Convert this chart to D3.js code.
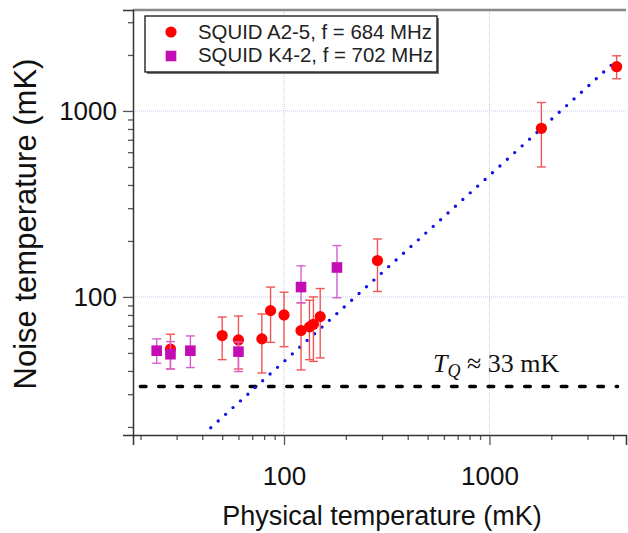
<!DOCTYPE html>
<html>
<head>
<meta charset="utf-8">
<script src="https://cdn.jsdelivr.net/npm/d3@7"></script>
<style>
  body { margin: 0; background: #fff; }
  text { font-family: Arial, "Liberation Sans", sans-serif; }
</style>
</head>
<body>
<svg id="mainsvg"></svg>
<script>
// SQUID A2-5 (red circles)
const aName = "SQUID A2-5, f = 684 MHz";
const aTemp  = [28, 50, 60, 78, 86, 100, 121, 133, 139, 150, 285, 1790, 4160];
const aNoise = [52.5, 62, 58.7, 59.5, 84.4, 80, 66, 69, 71.3, 78.4, 157, 807, 1730];
const aLow   = [41, 46, 41, 39, 57, 54, 40.5, 46, 45, 47, 107, 500, 1490];
const aHigh  = [63, 78, 79, 81, 113, 106, 93, 96, 100, 111, 205, 1110, 1980];

// SQUID K4-2 (magenta squares)
const kName = "SQUID K4-2, f = 702 MHz";
const kTemp  = [24, 28, 35, 60, 121, 181];
const kNoise = [51.4, 49.2, 51.4, 50.8, 113, 144];
const kLow   = [44, 41, 41.7, 39.7, 93, 99];
const kHigh  = [59.5, 57.5, 61.7, 57.3, 147, 189];

// reference lines
const tQ = 33;
const tQRange = [20, 4200];
const slope = 0.45;            // classical line T_N = 0.45 T
const slopeRange = [44, 4000];

const xMajor = [100, 1000];
const yMajor = [100, 1000];
const xMinor = [20,30,40,50,60,70,80,90,200,300,400,500,600,700,800,900,2000,3000,4000];
const yMinor = [20,30,40,50,60,70,80,90,200,300,400,500,600,700,800,900,2000,3000];

const width = 628, height = 533;
const margin = {top: 10, right: 2, bottom: 98, left: 133};

const x = d3.scaleLog([18.4, 4620], [margin.left, width - margin.right]);
const y = d3.scaleLog([18.1, 3490], [height - margin.bottom, margin.top]);

const svg = d3.select("#mainsvg")
    .attr("width", width)
    .attr("height", height)
    .attr("viewBox", [0, 0, width, height]);

// grid
svg.append("g").selectAll("line").data(xMajor).join("line")
    .attr("x1", d => x(d)).attr("x2", d => x(d))
    .attr("y1", margin.top).attr("y2", height - margin.bottom)
    .attr("stroke", "#c4c4c4").attr("stroke-dasharray", "1,1");
svg.append("g").selectAll("line").data(yMajor).join("line")
    .attr("x1", margin.left).attr("x2", width - margin.right)
    .attr("y1", d => y(d)).attr("y2", d => y(d))
    .attr("stroke", "#c8c8f0").attr("stroke-dasharray", "1,1");

// top frame
svg.append("line")
    .attr("x1", margin.left).attr("x2", width - margin.right)
    .attr("y1", margin.top).attr("y2", margin.top)
    .attr("stroke", "#888").attr("stroke-width", 2.4);

// axes
const xAxisMajor = d3.axisBottom(x).tickValues(xMajor).tickSize(10).tickFormat(d3.format("d"));
const xAxisMinor = d3.axisBottom(x).tickValues(xMinor).tickSize(5).tickFormat("");
const yAxisMajor = d3.axisLeft(y).tickValues(yMajor).tickSize(10).tickFormat(d3.format("d"));
const yAxisMinor = d3.axisLeft(y).tickValues(yMinor).tickSize(5).tickFormat("");

function styleAxis(g) {
  g.select(".domain").attr("stroke", "#333").attr("stroke-width", 1.5);
  g.selectAll(".tick line").attr("stroke", "#555").attr("stroke-width", 1.3);
  g.selectAll(".tick text").attr("fill", "#111").style("font-size", "26px");
}

svg.append("g").attr("transform", `translate(0,${height - margin.bottom})`)
    .call(xAxisMinor).call(styleAxis).call(g => g.select(".domain").remove());
svg.append("g").attr("transform", `translate(0,${height - margin.bottom})`)
    .call(xAxisMajor).call(styleAxis)
    .call(g => g.selectAll(".tick text").attr("y", 32));
svg.append("g").attr("transform", `translate(${margin.left},0)`)
    .call(yAxisMinor).call(styleAxis).call(g => g.select(".domain").remove());
svg.append("g").attr("transform", `translate(${margin.left},0)`)
    .call(yAxisMajor).call(styleAxis)
    .call(g => g.selectAll(".tick text").attr("x", -16));

// axis titles
svg.append("text")
    .attr("x", 382).attr("y", 525)
    .attr("text-anchor", "middle")
    .style("font-size", "27px").attr("fill", "#111")
    .text("Physical temperature (mK)");
svg.append("text")
    .attr("transform", "translate(36,224) rotate(-90)")
    .attr("text-anchor", "middle")
    .style("font-size", "31px").attr("fill", "#111")
    .text("Noise temperature (mK)");

// T_Q dashed line
svg.append("line")
    .attr("x1", x(tQRange[0])).attr("x2", x(tQRange[1]))
    .attr("y1", y(tQ)).attr("y2", y(tQ))
    .attr("stroke", "#000").attr("stroke-width", 3.6)
    .attr("stroke-linecap", "round").attr("stroke-dasharray", "5.5,12.8");

const tq = svg.append("text")
    .attr("x", 433).attr("y", 372)
    .style("font-family", "'Liberation Serif', 'DejaVu Serif', serif")
    .style("font-size", "26px").attr("fill", "#111");
tq.append("tspan").style("font-style", "italic").text("T");
tq.append("tspan").style("font-style", "italic").style("font-size", "18px").attr("dy", 5).text("Q");
tq.append("tspan").attr("dy", -5).text(" \u2248 33 mK");

// classical dotted line
svg.append("line")
    .attr("x1", x(slopeRange[0])).attr("y1", y(slope * slopeRange[0]))
    .attr("x2", x(slopeRange[1])).attr("y2", y(slope * slopeRange[1]))
    .attr("stroke", "#1414e6").attr("stroke-width", 3.4)
    .attr("stroke-linecap", "round").attr("stroke-dasharray", "0,10");

// error bars + markers
function errorBars(temp, low, high, color) {
  const g = svg.append("g").attr("stroke", color).attr("stroke-width", 1.4);
  const cap = 4.5;
  g.selectAll(".v").data(temp).join("line")
      .attr("x1", d => x(d)).attr("x2", d => x(d))
      .attr("y1", (d, i) => y(low[i])).attr("y2", (d, i) => y(high[i]));
  g.selectAll(".lo").data(temp).join("line")
      .attr("x1", d => x(d) - cap).attr("x2", d => x(d) + cap)
      .attr("y1", (d, i) => y(low[i])).attr("y2", (d, i) => y(low[i]));
  g.selectAll(".hi").data(temp).join("line")
      .attr("x1", d => x(d) - cap).attr("x2", d => x(d) + cap)
      .attr("y1", (d, i) => y(high[i])).attr("y2", (d, i) => y(high[i]));
}

const red = "#ff0000", redErr = "#f25555";
const mag = "#c40cb4", magErr = "#d65ed0";

errorBars(aTemp, aLow, aHigh, redErr);
svg.append("g").selectAll("circle").data(aTemp).join("circle")
    .attr("cx", d => x(d)).attr("cy", (d, i) => y(aNoise[i]))
    .attr("r", 5.6).attr("fill", red);

errorBars(kTemp, kLow, kHigh, magErr);
svg.append("g").selectAll("rect").data(kTemp).join("rect")
    .attr("x", d => x(d) - 5.3).attr("y", (d, i) => y(kNoise[i]) - 5.3)
    .attr("width", 10.6).attr("height", 10.6).attr("fill", mag);

// legend
const lg = svg.append("g");
lg.append("rect").attr("x", 147).attr("y", 18).attr("width", 292).attr("height", 56).attr("fill", "#777");
lg.append("rect").attr("x", 145).attr("y", 16).attr("width", 292).attr("height", 56)
    .attr("fill", "#fff").attr("stroke", "#111").attr("stroke-width", 1.3);
lg.append("circle").attr("cx", 171).attr("cy", 32).attr("r", 5.6).attr("fill", red);
lg.append("rect").attr("x", 165.7).attr("y", 50.7).attr("width", 10.6).attr("height", 10.6).attr("fill", mag);
lg.append("text").attr("x", 198).attr("y", 39).style("font-size", "20.4px").attr("fill", "#222").text(aName);
lg.append("text").attr("x", 198).attr("y", 62).style("font-size", "20.4px").attr("fill", "#222").text(kName);
</script>
</body>
</html>
